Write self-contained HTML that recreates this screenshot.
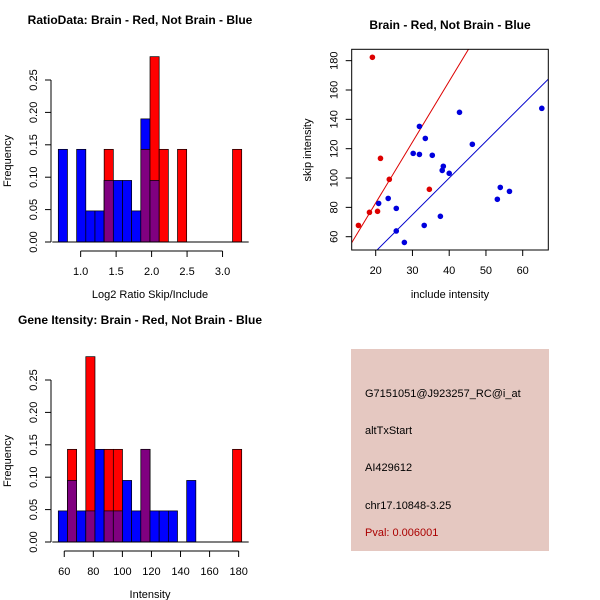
<!DOCTYPE html>
<html><head><meta charset="utf-8"><style>
body{margin:0;background:#fff;}
svg{display:block;font-family:"Liberation Sans",sans-serif;}
</style></head><body>
<svg id="chart" width="600" height="600" xmlns="http://www.w3.org/2000/svg"></svg>
<script>
// ---- data ----
const ratioBlue = [0.143,0,0.143,0.048,0.048,0.095,0.095,0.095,0.048,0.190,0.095,0,0,0,0,0,0,0,0,0];
const ratioRed  = [0,0,0,0,0,0.143,0,0,0,0.143,0.286,0.143,0,0.143,0,0,0,0,0,0.143];
const ratioRange = [0.685, 3.27];
const ratioXTicks = [1.0,1.5,2.0,2.5,3.0];
const intBlue = [0.048,0.095,0.048,0.048,0.143,0.048,0.048,0.095,0.048,0.143,0.048,0.048,0.048,0,0.095,0,0,0,0,0];
const intRed  = [0,0.143,0,0.286,0,0.143,0.143,0,0,0.143,0,0,0,0,0,0,0,0,0,0.143];
const intRange = [55.9, 182.1];
const intXTicks = [60,80,100,120,140,160,180];
const freqTicks = [0.00,0.05,0.10,0.15,0.20,0.25];
const redX = [19.1,15.3,18.3,20.5,21.3,23.7,34.6];
const redY = [182.3,67.7,76.6,77.3,113.4,99.1,92.3];
const blueX = [20.8,23.4,25.6,25.6,27.8,30.2,31.9,31.9,33.5,33.2,35.4,37.6,38.1,38.4,40.0,42.8,46.3,53.1,53.9,56.4,65.2];
const blueY = [82.7,86.1,79.3,63.9,56.1,116.8,116.1,135.2,127.0,67.7,115.5,73.9,105.2,108.0,103.2,144.8,123.0,85.5,93.6,90.9,147.5];
const slopes = [4.15, 2.5];
const scatXTicks = [20,30,40,50,60];
const scatYTicks = [60,80,100,120,140,160,180];

const NS="http://www.w3.org/2000/svg";
const svg=document.getElementById('chart');
function mk(tag,attrs,parent,text){const e=document.createElementNS(NS,tag);for(const k in attrs)e.setAttribute(k,attrs[k]);if(text!==undefined)e.textContent=text;(parent||svg).appendChild(e);return e;}

function hist(g,oy,blue,red,range,xticks,fmt,xlabel,title){
  const x=v=>80.7+(v-1)*71; // overwritten below
  const X0=58.3,X1=241.7;
  const sx=v=>X0+(v-range[0])/(range[1]-range[0])*(X1-X0);
  const sy=v=>oy+202-v*648;
  const n=blue.length,bw=(X1-X0)/n;
  const t=mk('text',{x:140,y:oy-16,'font-size':12,'font-weight':'bold','text-anchor':'middle'},g,title);
  
  
  for(let i=0;i<n;i++){
    const x0=X0+i*bw;
    if(blue[i]>0){const r=mk('rect',{x:x0,y:sy(blue[i]),width:bw,height:sy(0)-sy(blue[i]),fill:'#0000ff',stroke:'#000','stroke-width':0.7},g);
      
      }
    if(red[i]>0){const r=mk('rect',{x:x0,y:sy(red[i]),width:bw,height:sy(0)-sy(red[i]),fill:'#ff0000',stroke:'#000','stroke-width':0.7},g);
      
      }
    const m=Math.min(blue[i],red[i]);
    if(m>0){const r=mk('rect',{x:x0,y:sy(m),width:bw,height:sy(0)-sy(m),fill:'#800080',stroke:'#000','stroke-width':0.7},g);
      
      }
  }
  mk('line',{x1:X0-6,x2:X1+7,y1:sy(0),y2:sy(0),stroke:'#000'},g);
  // y axis
  const ya=mk('g',{},g);
  
  
  mk('line',{x1:51,x2:51,y1:sy(0),y2:sy(0.25),stroke:'#000'},ya);
  freqTicks.forEach(v=>{mk('line',{x1:45,x2:51,y1:sy(v),y2:sy(v),stroke:'#000'},ya);
    mk('text',{x:0,y:0,'font-size':11,'text-anchor':'middle',transform:`translate(37,${sy(v)}) rotate(-90)`},ya,v.toFixed(2));});
  const yl=mk('text',{x:0,y:0,'font-size':11,'text-anchor':'middle',transform:`translate(11,${sy(0.125)}) rotate(-90)`},g,'Frequency');
  
  
  const xa=mk('g',{},g);
  
  
  const ay=oy+211;
  mk('line',{x1:sx(xticks[0]),x2:sx(xticks[xticks.length-1]),y1:ay,y2:ay,stroke:'#000'},xa);
  xticks.forEach(v=>{mk('line',{x1:sx(v),x2:sx(v),y1:ay,y2:ay+6,stroke:'#000'},xa);
    mk('text',{x:sx(v),y:ay+24,'font-size':11,'text-anchor':'middle'},xa,fmt(v));});
  const xl=mk('text',{x:150,y:oy+258,'font-size':11,'text-anchor':'middle'},g,xlabel);
  
  
}
const g1=mk('g',{});


hist(g1,40,ratioBlue,ratioRed,ratioRange,ratioXTicks,v=>v.toFixed(1),'Log2 Ratio Skip/Include','RatioData: Brain - Red, Not Brain - Blue');
const g3=mk('g',{});


hist(g3,340,intBlue,intRed,intRange,intXTicks,v=>String(v),'Intensity','Gene Itensity: Brain - Red, Not Brain - Blue');

// scatter
const g2=mk('g',{});


const px=v=>375.7+(v-20)*3.675, py=v=>236.7-(v-60)*1.467;
const L=351.7,R=548.3,T=49.3,B=250;
const st=mk('text',{x:450,y:29,'font-size':12,'font-weight':'bold','text-anchor':'middle'},g2,'Brain - Red, Not Brain - Blue');


mk('defs',{},g2).innerHTML='<clipPath id="cp"><rect x="351.7" y="49.3" width="196.6" height="200.7"/></clipPath>';
const lines=mk('g',{'clip-path':'url(#cp)'},g2);
const cols=['#dd0000','#0000cc'];
slopes.forEach((s,i)=>{const xa=10,xb=70;const l=mk('line',{x1:px(xa),y1:py(s*xa),x2:px(xb),y2:py(s*xb),stroke:cols[i],'stroke-width':1},lines);
  
  });
blueX.forEach((v,i)=>{const c=mk('circle',{cx:px(v),cy:py(blueY[i]),r:2.8,fill:'#0000dd'},g2);
  
  });
redX.forEach((v,i)=>{const c=mk('circle',{cx:px(v),cy:py(redY[i]),r:2.8,fill:'#dd0000'},g2);
  
  });
mk('rect',{x:L,y:T,width:R-L,height:B-T,fill:'none',stroke:'#000'},g2);
scatXTicks.forEach(v=>{mk('line',{x1:px(v),x2:px(v),y1:B,y2:B+6,stroke:'#000'},g2);
  mk('text',{x:px(v),y:B+24,'font-size':11,'text-anchor':'middle'},g2,String(v));});
scatYTicks.forEach(v=>{mk('line',{x1:L-6,x2:L,y1:py(v),y2:py(v),stroke:'#000'},g2);
  mk('text',{x:0,y:0,'font-size':11,'text-anchor':'middle',transform:`translate(${L-14},${py(v)}) rotate(-90)`},g2,String(v));});
const sxl=mk('text',{x:450,y:298,'font-size':11,'text-anchor':'middle'},g2,'include intensity');


const syl=mk('text',{x:0,y:0,'font-size':11,'text-anchor':'middle',transform:`translate(311,150) rotate(-90)`},g2,'skip intensity');



// info panel
const g4=mk('g',{});


mk('rect',{x:351,y:349,width:198,height:202,fill:'#e5c8c1'},g4);
[['G7151051@J923257_RC@i_at',397,'probe-id'],['altTxStart',434,'event-type'],['AI429612',471,'accession'],['chr17.10848-3.25',509,'location']].forEach(a=>{
  const t=mk('text',{x:365,y:a[1],'font-size':11,fill:'#000'},g4,a[0]);
  
  });
const pv=mk('text',{x:365,y:536,'font-size':11,fill:'#aa0000'},g4,'Pval: 0.006001');


</script>
</body></html>
